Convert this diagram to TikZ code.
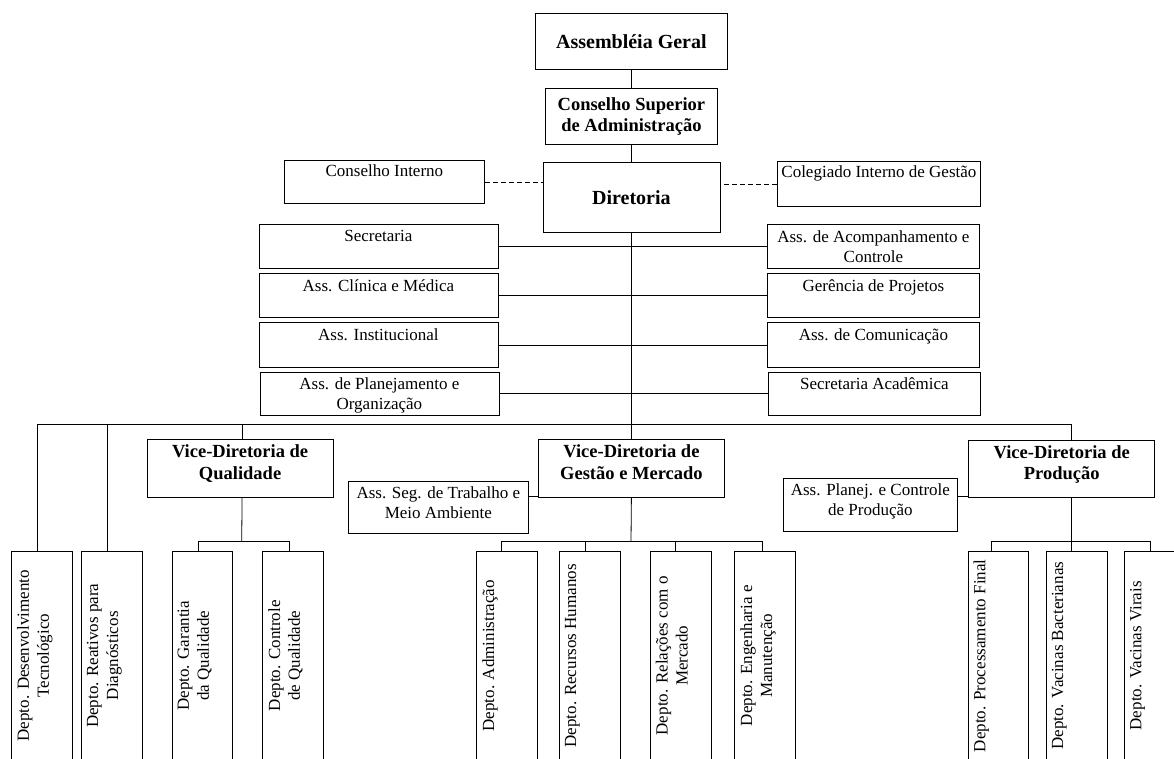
\documentclass[tikz,border=0pt]{standalone}
\usepackage{fontspec}
\setmainfont{Liberation Serif}
\newcommand{\orgreg}{\fontsize{17}{20}\selectfont}
\newcommand{\orgbold}{\fontsize{18.5}{21.5}\selectfont\bfseries}
\newcommand{\orgbig}{\fontsize{20}{23}\selectfont\bfseries}
\begin{document}
\begin{tikzpicture}[x=1pt, y=-1pt, line width=0.8pt,
  orgbox/.style 2 args={draw, rectangle, inner sep=0pt, minimum width=#1, minimum height=#2, anchor=north west},
  toplabel/.style={anchor=north, inner sep=0pt, align=center, font=\orgreg},
  boldlabel/.style={anchor=north, inner sep=0pt, align=center, font=\orgbold},
  sidelabel/.style={rotate=90, anchor=north, inner sep=0pt, align=center, font=\orgreg},
  dept/.style={orgbox={60.6pt}{209.3pt}},
  dashlink/.style={dash pattern=on 5pt off 3pt}
]
\useasboundingbox (0,0) rectangle (1174,758);

% --- top of the hierarchy
\node[orgbox={192pt}{56.6pt}, font=\orgbig] (ag) at (535,12.7) {Assembléia Geral};
\node[orgbox={172pt}{56pt}, font=\orgbold, align=center] (csa) at (545,88) {Conselho Superior\\de Administração};
\node[orgbox={177pt}{70pt}, font=\orgbig] (dir) at (542.5,162) {Diretoria};

\node[orgbox={200pt}{43pt}] (ci) at (284,160) {};
\node[toplabel] (ci-t) at ([yshift=-4.5pt]ci.north) {Conselho Interno};
\node[orgbox={203pt}{45pt}] (cig) at (777,161) {};
\node[toplabel] (cig-t) at ([yshift=-4.5pt]cig.north) {Colegiado Interno de Gestão};

% --- staff units beside the central axis
\node[orgbox={239pt}{43.4pt}] (l1) at (258.5,224.3) {};
\node[toplabel] (l1-t) at ([yshift=-6pt]l1.north) {Secretaria};
\node[orgbox={239pt}{43.4pt}] (l2) at (258.5,273.3) {};
\node[toplabel] (l2-t) at ([yshift=-6pt]l2.north) {Ass. Clínica e Médica};
\node[orgbox={239pt}{44.4pt}] (l3) at (258.5,322.3) {};
\node[toplabel] (l3-t) at ([yshift=-6pt]l3.north) {Ass. Institucional};
\node[orgbox={239pt}{43.5pt}] (l4) at (259.5,371.7) {};
\node[toplabel] (l4-t) at ([yshift=-6pt]l4.north) {Ass. de Planejamento e\\Organização};

\node[orgbox={212pt}{43.4pt}] (r1) at (767,224.3) {};
\node[toplabel] (r1-t) at ([yshift=-6pt]r1.north) {Ass. de Acompanhamento e\\Controle};
\node[orgbox={212pt}{43.4pt}] (r2) at (767,273.3) {};
\node[toplabel] (r2-t) at ([yshift=-6pt]r2.north) {Gerência de Projetos};
\node[orgbox={212pt}{44.4pt}] (r3) at (767,322.3) {};
\node[toplabel] (r3-t) at ([yshift=-6pt]r3.north) {Ass. de Comunicação};
\node[orgbox={212pt}{43.5pt}] (r4) at (768,371.7) {};
\node[toplabel] (r4-t) at ([yshift=-6pt]r4.north) {Secretaria Acadêmica};

% --- vice-directorates and their advisers
\node[orgbox={186pt}{57.7pt}] (vdq) at (146.7,439) {};
\node[boldlabel] (vdq-t) at ([yshift=-5.5pt]vdq.north) {Vice-Diretoria de\\Qualidade};
\node[orgbox={186pt}{57.7pt}] (vdg) at (538,439) {};
\node[boldlabel] (vdg-t) at ([yshift=-5.5pt]vdg.north) {Vice-Diretoria de\\Gestão e Mercado};
\node[orgbox={186pt}{56.7pt}] (vdp) at (968.3,440) {};
\node[boldlabel] (vdp-t) at ([yshift=-5pt]vdp.north) {Vice-Diretoria de\\Produção};

\node[orgbox={179.4pt}{52.6pt}] (aseg) at (348.3,480.7) {};
\node[toplabel] (aseg-t) at ([yshift=-6pt]aseg.north) {Ass. Seg. de Trabalho e\\Meio Ambiente};
\node[orgbox={173.4pt}{53.3pt}] (apl) at (783.3,477.7) {};
\node[toplabel] (apl-t) at ([yshift=-6pt]apl.north) {Ass. Planej. e Controle\\de Produção};

% --- departments (text runs bottom to top)
\node[dept] (dDes) at (11.2,550.7) {};
\node[sidelabel] (dDes-t) at ([xshift=5.5pt]dDes.west) {Depto. Desenvolvimento\\Tecnológico};
\node[dept] (dRea) at (81,550.7) {};
\node[sidelabel] (dRea-t) at ([xshift=5.5pt]dRea.west) {Depto. Reativos para\\Diagnósticos};
\node[dept] (dGar) at (171.7,550.7) {};
\node[sidelabel] (dGar-t) at ([xshift=5.5pt]dGar.west) {Depto. Garantia\\da Qualidade};
\node[dept] (dCon) at (262.3,550.7) {};
\node[sidelabel] (dCon-t) at ([xshift=5.5pt]dCon.west) {Depto. Controle\\de Qualidade};
\node[dept] (dAdm) at (476.3,550.7) {};
\node[sidelabel] (dAdm-t) at ([xshift=5.5pt]dAdm.west) {Depto. Administração};
\node[dept] (dRH) at (559,550.7) {};
\node[sidelabel] (dRH-t) at ([xshift=5.5pt]dRH.west) {Depto. Recursos Humanos};
\node[dept] (dRel) at (650,550.7) {};
\node[sidelabel] (dRel-t) at ([xshift=5.5pt]dRel.west) {Depto. Relações com o\\Mercado};
\node[dept] (dEng) at (734.3,550.7) {};
\node[sidelabel] (dEng-t) at ([xshift=5.5pt]dEng.west) {Depto. Engenharia e\\Manutenção};
\node[dept] (dPro) at (967.7,550.7) {};
\node[sidelabel] (dPro-t) at ([xshift=5.5pt]dPro.west) {Depto. Processamento Final};
\node[dept] (dBac) at (1046,550.7) {};
\node[sidelabel] (dBac-t) at ([xshift=5.5pt]dBac.west) {Depto. Vacinas Bacterianas};
\node[dept] (dVir) at (1124.3,550.7) {};
\node[sidelabel] (dVir-t) at ([xshift=5.5pt]dVir.west) {Depto. Vacinas Virais};

% --- junction points of the connector tree
\coordinate (busL) at (37,424.3);
\coordinate (busR) at (1071.7,424.3);
\coordinate (qB) at (241.7,541.7);
\coordinate (gB) at (631,541);
\coordinate (pB) at (1071.7,541);

% --- connectors
\draw (ag) -- (csa);
\draw (csa) -- (dir);
\draw[dashlink] (ci.east) -- (ci.east -| dir.west);
\draw[dashlink] (cig.west) -- (cig.west -| dir.east);

\draw (l1.east) -- (r1.west);
\draw (l2.east) -- (r2.west);
\draw (l3.east) -- (r3.west);
\draw (l4.east) -- (r4.west);

\draw (dir.south) -- (dir.south |- busL);
\draw (busL) -- (busR);
\draw ([xshift=-4.5pt]dDes.north) -- ([xshift=-4.5pt]dDes.north |- busL);
\draw ([xshift=-4pt]dRea.north) -- ([xshift=-4pt]dRea.north |- busL);
\draw ([xshift=2pt]vdq.north) -- ([xshift=2pt]vdq.north |- busL);
\draw (vdg.north) -- (vdg.north |- busL);
\draw (busR) -- (busR |- vdp.north);

\draw ([xshift=2pt]vdq.south) -- (qB);
\draw ([xshift=-4.3pt]dGar.north) |- (qB) -| ([xshift=-3.3pt]dCon.north);

\draw (vdg.south) -- (gB);
\draw ([xshift=-5.3pt]dAdm.north) |- (gB) -| ([xshift=-2.9pt]dEng.north);
\draw ([xshift=-4.6pt]dRH.north) -- ([xshift=-4.6pt]dRH.north |- gB);
\draw ([xshift=-5.3pt]dRel.north) -- ([xshift=-5.3pt]dRel.north |- gB);
\draw ([yshift=1pt]vdg.south west) -- ([yshift=1pt]vdg.south west -| aseg.east);

\draw (busR |- vdp.south) -- (pB);
\draw ([xshift=-7.3pt]dPro.north) |- (pB) -| ([xshift=-4.6pt]dVir.north);
\draw (pB) -- (pB |- dBac.north);
\draw ([yshift=0.7pt]vdp.south west) -- ([yshift=0.7pt]vdp.south west -| apl.east);
\end{tikzpicture}
\end{document}
